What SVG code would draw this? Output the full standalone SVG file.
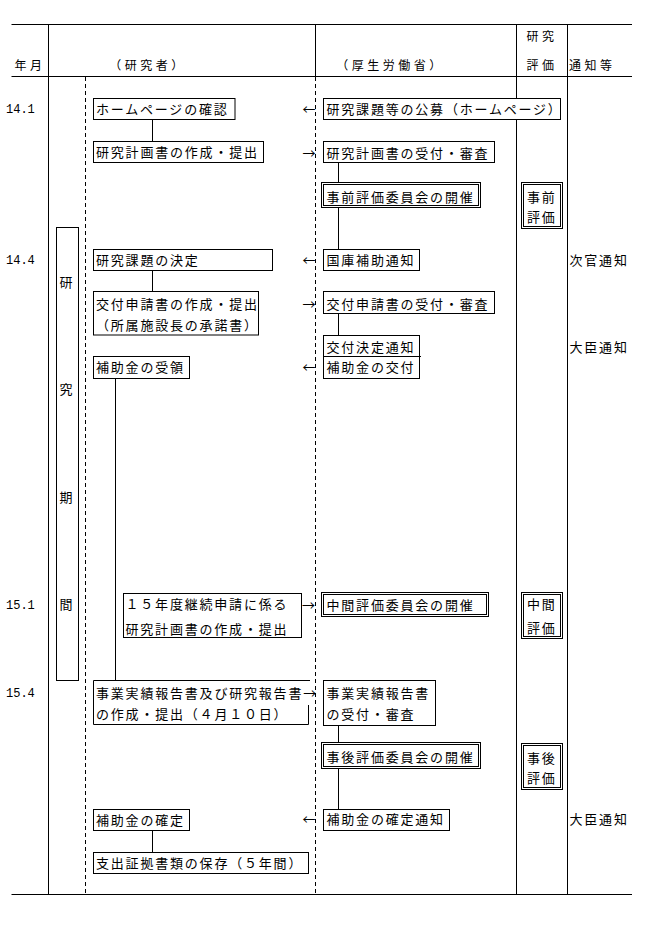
<svg xmlns="http://www.w3.org/2000/svg" width="654" height="945" viewBox="0 0 654 945">
<style>
.l{stroke:#000;stroke-width:1;fill:none}
.d{stroke:#000;stroke-width:1;fill:none;stroke-dasharray:4 3}
.b{stroke:#000;stroke-width:1;fill:#fff}
text{font-family:"Noto Sans CJK JP","Noto Sans CJK SC",sans-serif;fill:#000}
.t{font-size:13px;letter-spacing:1.8px}
.a{font-size:13px}
.h{font-size:12px;letter-spacing:3.5px}
.n{font-family:"Liberation Mono",monospace;font-size:12px}
</style>
<rect width="654" height="945" fill="#fff"/>
<g id="table">
<path class="l" d="M11.5 24.5H632M11.5 76.5H632M11.5 894.5H632M48.5 24V895M516.5 24V895M567.5 24V895M315.5 24V77"/>
<path class="d" d="M85.5 77V894M315.5 77V894"/>
</g>
<g id="header">
<text class="h" x="14.5" y="70">年月</text>
<text class="h" x="109.3" y="70">（研究者）</text>
<text class="h" x="336.3" y="70">（厚生労働省）</text>
<text class="h" x="526.5" y="41">研究</text>
<text class="h" x="526.5" y="70">評価</text>
<text class="h" x="569" y="70">通知等</text>
</g>
<g id="dates">
<text class="n" x="6" y="113.3">14.1</text>
<text class="n" x="6" y="263.5">14.4</text>
<text class="n" x="6" y="609">15.1</text>
<text class="n" x="6" y="697">15.4</text>
</g>
<g id="period">
<rect class="b" x="56.5" y="227.5" width="22" height="453"/>
<text class="a" x="59.5" y="286.5">研</text>
<text class="a" x="59.5" y="393.7">究</text>
<text class="a" x="59.5" y="502">期</text>
<text class="a" x="59.5" y="609">間</text>
</g>
<g id="connectors">
<path class="l" d="M152.5 119.5V141.5M152.5 270.5V291.5M115.5 378.5V680.5M152.5 830.5V852.5M338.5 162.5V182.5M338.5 207.5V249.5M338.5 313.5V335.5M338.5 725.5V742.5M338.5 768.5V809.5"/>
<text class="a" x="302.5" y="114">←</text>
<text class="a" x="302.5" y="158">→</text>
<text class="a" x="302.5" y="264.5">←</text>
<text class="a" x="302.5" y="309">→</text>
<text class="a" x="302.5" y="372.3">←</text>
<text class="a" x="302" y="610">→</text>
<text class="a" x="302.5" y="824.3">←</text>
</g>
<g id="r1"><rect class="b" x="93.5" y="98.5" width="141.5" height="21"/><text class="t" x="96" y="114">ホームページの確認</text></g>
<g id="r2"><rect class="b" x="93.5" y="141.5" width="170" height="21"/><text class="t" x="96" y="157">研究計画書の作成・提出</text></g>
<g id="r3"><rect class="b" x="93.5" y="249.5" width="179" height="21"/><text class="t" x="96" y="265">研究課題の決定</text></g>
<g id="r4"><rect class="b" x="93.5" y="291.5" width="165" height="43.5"/><text class="t" x="96" y="309">交付申請書の作成・提出</text><text class="t" x="96" y="330">（所属施設長の承諾書）</text></g>
<g id="r5"><rect class="b" x="93.5" y="356.5" width="96" height="22"/><text class="t" x="96" y="372">補助金の受領</text></g>
<g id="r6"><rect class="b" x="123.5" y="593.5" width="178" height="44"/><text class="t" x="125.5" y="609">１５年度継続申請に係る</text><text class="t" x="125.5" y="633.5">研究計画書の作成・提出</text></g>
<g id="r7"><path class="b" d="M310 680.5H93.5V724.5H308.5V705"/><text class="t" x="96" y="697.5">事業実績報告書及び研究報告書→</text><text class="t" x="96" y="719">の作成・提出（４月１０日）</text></g>
<g id="r8"><rect class="b" x="93.5" y="809.5" width="96" height="21"/><text class="t" x="96" y="824.5">補助金の確定</text></g>
<g id="r9"><rect class="b" x="93.5" y="852.5" width="215" height="21"/><text class="t" x="96" y="867.5">支出証拠書類の保存（５年間）</text></g>
<g id="m1"><rect class="b" x="323.5" y="98.5" width="237" height="21"/><text class="t" x="326.5" y="113.7">研究課題等の公募（ホームページ）</text></g>
<g id="m2"><rect class="b" x="323.5" y="141.5" width="171" height="21"/><text class="t" x="326.5" y="157.5">研究計画書の受付・審査</text></g>
<g id="m3"><rect class="b" x="321.5" y="182.5" width="159" height="25"/><rect class="b" x="323.5" y="184.5" width="155" height="21"/><text class="t" x="326.5" y="201.5">事前評価委員会の開催</text></g>
<g id="m4"><rect class="b" x="521.5" y="182.5" width="41" height="46"/><rect class="b" x="523.5" y="184.5" width="37" height="42"/><text class="t" x="527" y="201.5">事前</text><text class="t" x="527" y="222">評価</text></g>
<g id="m5"><rect class="b" x="323.5" y="249.5" width="96" height="21"/><text class="t" x="326.5" y="264.5">国庫補助通知</text></g>
<g id="m6"><rect class="b" x="323.5" y="291.5" width="171" height="22"/><text class="t" x="326.5" y="308.7">交付申請書の受付・審査</text></g>
<g id="m7"><rect class="b" x="323.5" y="335.5" width="96" height="21"/><text class="t" x="326.5" y="351.5">交付決定通知</text></g>
<g id="m8"><rect class="b" x="323.5" y="356.5" width="96" height="22"/><path class="l" d="M419.5 356.5H421"/><text class="t" x="326.5" y="372">補助金の交付</text></g>
<g id="m9"><rect class="b" x="321.5" y="592.5" width="167" height="24"/><rect class="b" x="323.5" y="594.5" width="163" height="20"/><text class="t" x="326.5" y="609.7">中間評価委員会の開催</text></g>
<g id="m10"><rect class="b" x="521.5" y="592.5" width="41" height="46"/><rect class="b" x="523.5" y="594.5" width="37" height="42"/><text class="t" x="527" y="609">中間</text><text class="t" x="527" y="632.5">評価</text></g>
<g id="m11"><rect class="b" x="323.5" y="680.5" width="112" height="45"/><text class="t" x="326.5" y="698">事業実績報告書</text><text class="t" x="326.5" y="719">の受付・審査</text></g>
<g id="m12"><rect class="b" x="321.5" y="742.5" width="159" height="26"/><rect class="b" x="323.5" y="744.5" width="155" height="22"/><text class="t" x="326.5" y="762">事後評価委員会の開催</text></g>
<g id="m13"><rect class="b" x="323.5" y="809.5" width="126" height="21"/><text class="t" x="326.5" y="824">補助金の確定通知</text></g>
<g id="m14"><rect class="b" x="521.5" y="743.5" width="41" height="46"/><rect class="b" x="523.5" y="745.5" width="37" height="42"/><text class="t" x="527" y="763">事後</text><text class="t" x="527" y="783">評価</text></g>
<g id="notes">
<text class="t" x="569.5" y="264.5">次官通知</text>
<text class="t" x="569.5" y="351.5">大臣通知</text>
<text class="t" x="569.5" y="824">大臣通知</text>
</g>
</svg>
